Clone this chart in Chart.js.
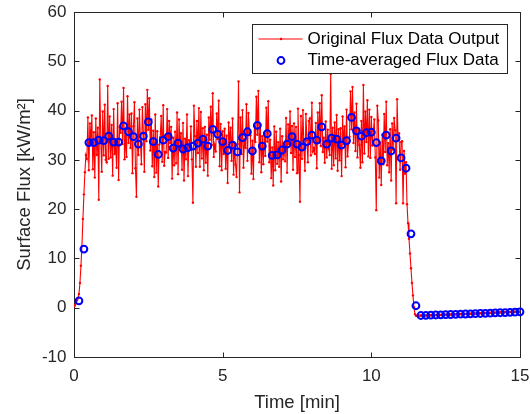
<!DOCTYPE html>
<html>
<head>
<meta charset="utf-8">
<title>Surface Flux</title>
<script src="https://cdn.jsdelivr.net/npm/chart.js@4.4.1/dist/chart.umd.min.js"></script>
<style>
  html, body { margin: 0; padding: 0; background: #fff; }
  #wrap { width: 530px; height: 414px; }
</style>
</head>
<body>
<div id="wrap"><canvas id="fluxChart" width="530" height="414"></canvas></div>
<script>
// raw sensor output, one sample every 2 s
const RAW_STEP_MIN = 1 / 30;
const rawFlux = [
  0.3, 0.6, 1.0, 1.5, 1.9, 2.8, 5.0, 8.5, 12.5, 18.0, 23.0, 27.5, 31.0,
  30.2, 38.6, 27.9, 37.4, 33.4,   39.0, 28.1, 35.6, 26.4, 38.4,
  31.0, 36.5, 21.9, 46.3, 34.3,   27.6, 39.8, 30.9, 41.2, 30.0,
  29.5, 45.0, 30.2, 38.8, 30.5,   37.1, 26.8, 40.3, 31.2, 32.6,
  28.4, 41.5, 25.9, 36.7, 35.5,   41.8, 33.2, 44.6, 30.1, 34.8,
  30.6, 42.9, 33.4, 39.2, 32.4,   39.4, 27.3, 36.8, 41.7, 28.3,
  22.5, 38.4, 31.0, 40.2, 33.9,   29.1, 40.7, 35.3, 27.6, 41.3,
  33.8, 44.2, 36.1, 42.5, 31.9,   38.2, 28.7, 35.9, 26.5, 39.2,
  27.4, 35.8, 24.6, 33.1, 34.6,   38.9, 29.6, 41.1, 28.8, 31.6,
  31.5, 40.3, 30.4, 37.9, 33.4,   36.7, 26.2, 34.5, 28.9, 35.7,
  29.3, 39.6, 27.1, 38.2, 32.8,   35.4, 28.0, 37.5, 25.8, 34.3,
  30.1, 39.2, 26.7, 34.0, 32.5,   36.8, 30.1, 21.3, 41.0, 34.8,
  28.6, 37.9, 31.4, 40.5, 28.6,   39.7, 30.3, 36.4, 27.9, 36.7,
  29.4, 35.1, 26.8, 38.6, 34.1,   40.8, 33.0, 43.5, 30.6, 33.1,
  31.7, 39.4, 34.2, 42.0, 28.7,   37.3, 27.9, 35.8, 31.2, 36.3,
  28.2, 34.9, 25.3, 37.6, 33.5,   36.5, 29.8, 38.4, 27.0, 33.3,
  29.0, 26.5, 33.2, 45.9, 23.4,   38.6, 31.2, 40.1, 28.4, 34.2,
  32.4, 41.3, 29.8, 39.5, 35.5,   35.0, 27.2, 33.9, 26.1, 36.8,
  33.6, 42.8, 35.1, 44.0, 29.5,   37.2, 27.5, 34.8, 29.1, 35.4,
  30.8, 40.6, 33.7, 41.9, 29.5,   34.1, 26.3, 32.5, 24.8, 36.8,
  27.9, 35.7, 29.2, 33.6, 28.6,   36.3, 25.6, 34.8, 30.1, 33.2,
  29.7, 38.5, 27.4, 37.2, 33.2,   39.8, 31.4, 36.9, 28.0, 37.4,
  30.6, 36.7, 27.3, 40.4, 31.0,   21.5, 38.9, 30.2, 40.1, 32.3,
  27.8, 39.3, 34.0, 29.5, 37.9,   38.4, 30.9, 41.6, 31.7, 32.4,
  31.2, 37.5, 28.3, 39.6, 33.4,   41.5, 32.8, 43.1, 31.6, 34.5,
  29.4, 37.8, 30.5, 36.1, 32.2,   31.0, 47.4, 28.2, 36.5, 28.9,
  37.6, 30.3, 39.1, 27.8, 36.2,   29.9, 36.4, 26.7, 38.8, 33.2,
  36.8, 28.5, 40.2, 30.7, 33.3,   34.7, 43.9, 36.2, 44.8, 33.4,
  39.6, 31.8, 41.4, 30.5, 36.2,   33.0, 28.4, 37.9, 29.5, 45.2,
  31.3, 39.8, 33.6, 42.1, 30.7,   40.2, 30.4, 38.7, 32.9, 35.8,
  38.2, 30.5, 19.8, 41.0, 38.0,   26.4, 33.5, 24.9, 35.1, 29.1,
  39.3, 31.6, 41.8, 28.9, 33.4,   27.5, 36.2, 25.8, 37.4, 32.1,
  38.5, 36.0, 21.2, 42.3, 34.0,   35.4, 28.0, 33.6, 33.8, 21.2,
  31.8, 27.2, 29.5,
  21.0, 17.2, 14.0, 11.0, 8.0, 5.0, 2.5, 0.1, -1.3,
  -1.62, -1.60, -1.63, -1.59, -1.61, -1.58, -1.60, -1.57, -1.59, -1.56,
  -1.57, -1.55, -1.56, -1.53, -1.55, -1.52, -1.54, -1.51, -1.52, -1.50,
  -1.51, -1.48, -1.50, -1.47, -1.48, -1.45, -1.47, -1.44, -1.45, -1.42,
  -1.43, -1.41, -1.42, -1.39, -1.40, -1.37, -1.38, -1.36, -1.37, -1.34,
  -1.35, -1.32, -1.33, -1.31, -1.32, -1.29, -1.30, -1.27, -1.28, -1.26,
  -1.26, -1.24, -1.25, -1.22, -1.23, -1.20, -1.21, -1.19, -1.19, -1.17,
  -1.17, -1.15, -1.16, -1.13, -1.14, -1.11, -1.12, -1.10, -1.10, -1.08,
  -1.08, -1.06, -1.07, -1.04, -1.05, -1.02, -1.03, -1.01, -1.01, -0.99,
  -0.99, -0.97, -0.98, -0.95, -0.96, -0.93, -0.94, -0.92, -0.92, -0.90,
  -0.90, -0.88, -0.89, -0.86, -0.87, -0.85, -0.85, -0.83, -0.84, -0.82,
  -0.82, -0.81, -0.81, -0.80, -0.80, -0.79
];

// 10 s averages, first one at t = 1/6 min
const AVG_STEP_MIN = 1 / 6;
const avgFlux = [
  1.4, 11.9, 33.5, 33.5, 34.0, 33.9, 34.8, 33.6, 33.6, 36.9,
  35.7, 34.7, 33.2, 34.8, 37.7, 33.7, 31.1, 34.0, 34.7, 32.4,
  33.4, 32.2, 32.5, 32.8, 33.4, 34.2, 32.8, 36.2, 35.2, 33.7,
  31.9, 33.0, 31.6, 34.5, 35.7, 31.8, 37.0, 32.8, 35.3, 30.9,
  31.0, 32.0, 33.2, 34.7, 33.2, 32.6, 33.7, 35.0, 34.0, 36.7,
  33.2, 34.4, 34.2, 33.0, 33.9, 38.6, 35.9, 34.8, 35.5, 35.6,
  33.5, 29.8, 35.0, 31.8, 34.4, 30.4, 28.3, 15.0, 0.4,
  -1.58, -1.55, -1.52, -1.48, -1.45, -1.41, -1.38, -1.35, -1.32, -1.28,
  -1.24, -1.21, -1.17, -1.14, -1.10, -1.06, -1.02, -0.98, -0.94, -0.90, -0.84
];

const xTicks = [0, 5, 10, 15];
const yTicks = [-10, 0, 10, 20, 30, 40, 50, 60];

const FONT = "'Liberation Sans', Arial, Helvetica, sans-serif";
const AXIS_COLOR = '#262626';
const TICK_LEN = 5;

const rawPoints = rawFlux.map((v, i) => ({ x: i * RAW_STEP_MIN, y: v }));
const avgPoints = avgFlux.map((v, i) => ({ x: (i + 1) * AVG_STEP_MIN, y: v }));

// box + inward ticks on all four sides, like matlab
const matlabAxes = {
  id: 'matlabAxes',
  beforeDatasetsDraw(chart) {
    const { ctx, chartArea: a, scales } = chart;
    ctx.save();
    ctx.strokeStyle = AXIS_COLOR;
    ctx.lineWidth = 1;
    const l = Math.round(a.left) + 0.5, r = Math.round(a.right) + 0.5;
    const t = Math.round(a.top) + 0.5, b = Math.round(a.bottom) + 0.5;
    ctx.strokeRect(l, t, r - l, b - t);
    ctx.beginPath();
    scales.x.ticks.forEach(tk => {
      const px = Math.round(scales.x.getPixelForValue(tk.value)) + 0.5;
      ctx.moveTo(px, b); ctx.lineTo(px, b - TICK_LEN);
      ctx.moveTo(px, t); ctx.lineTo(px, t + TICK_LEN);
    });
    scales.y.ticks.forEach(tk => {
      const py = Math.round(scales.y.getPixelForValue(tk.value)) + 0.5;
      ctx.moveTo(l, py); ctx.lineTo(l + TICK_LEN, py);
      ctx.moveTo(r, py); ctx.lineTo(r - TICK_LEN, py);
    });
    ctx.stroke();
    ctx.restore();
  }
};

// legend box inside the axes, top right
const insideLegend = {
  id: 'insideLegend',
  afterDatasetsDraw(chart) {
    const { ctx, chartArea: a } = chart;
    const w = 255, h = 49;
    const x0 = Math.round(a.right - 13 - w) + 0.5;
    const y0 = Math.round(a.top + 12) + 0.5;
    ctx.save();
    ctx.fillStyle = '#fff';
    ctx.fillRect(x0, y0, w, h);
    ctx.strokeStyle = AXIS_COLOR;
    ctx.lineWidth = 1;
    ctx.strokeRect(x0, y0, w, h);

    ctx.font = '17px ' + FONT;
    ctx.textBaseline = 'middle';
    const ds = chart.data.datasets;
    const rows = [y0 + 14.5, y0 + 36];
    ds.forEach((d, i) => {
      const cy = rows[i];
      const cx = x0 + 28.5;
      if (d.showLine !== false) {
        ctx.strokeStyle = d.borderColor;
        ctx.lineWidth = d.borderWidth;
        ctx.beginPath();
        ctx.moveTo(x0 + 6, cy);
        ctx.lineTo(x0 + 50, cy);
        ctx.stroke();
        ctx.fillStyle = d.pointBackgroundColor;
        ctx.beginPath();
        ctx.arc(cx, cy, d.pointRadius, 0, Math.PI * 2);
        ctx.fill();
      } else {
        ctx.strokeStyle = d.pointBorderColor;
        ctx.lineWidth = d.pointBorderWidth;
        ctx.beginPath();
        ctx.arc(cx, cy, d.pointRadius, 0, Math.PI * 2);
        ctx.stroke();
      }
      ctx.fillStyle = '#000';
      ctx.fillText(d.label, x0 + 55, cy);
    });
    ctx.restore();
  }
};

const ctx = document.getElementById('fluxChart').getContext('2d');

new Chart(ctx, {
  type: 'scatter',
  data: {
    datasets: [
      {
        label: 'Original Flux Data Output',
        data: rawPoints,
        showLine: true,
        borderColor: '#ff0000',
        borderWidth: 1.1,
        pointRadius: 1.2,
        pointBackgroundColor: '#ff0000',
        pointBorderWidth: 0,
        pointHoverRadius: 1.2,
        tension: 0,
        order: 2
      },
      {
        label: 'Time-averaged Flux Data',
        data: avgPoints,
        showLine: false,
        pointRadius: 3.4,
        pointBorderWidth: 2,
        pointBorderColor: '#0000ff',
        pointBackgroundColor: 'rgba(0,0,0,0)',
        pointHoverRadius: 3.4,
        clip: false,
        order: 1
      }
    ]
  },
  options: {
    responsive: false,
    animation: false,
    devicePixelRatio: 1,
    layout: { padding: { top: 12, right: 10, left: 0, bottom: 0 } },
    plugins: {
      legend: { display: false },
      tooltip: { enabled: false }
    },
    events: [],
    scales: {
      x: {
        type: 'linear',
        min: 0,
        max: 15,
        afterBuildTicks: s => { s.ticks = xTicks.map(v => ({ value: v })); },
        afterFit: s => { s.height = 57; s.paddingLeft = 0; s.paddingRight = 0; },
        grid: { display: false, drawTicks: false },
        border: { display: false },
        ticks: { color: AXIS_COLOR, font: { family: FONT, size: 17 }, padding: 9.5, maxRotation: 0 },
        title: {
          display: true,
          text: 'Time [min]',
          color: AXIS_COLOR,
          font: { family: FONT, size: 18.5 },
          padding: { top: 0, bottom: 0 }
        }
      },
      y: {
        type: 'linear',
        min: -10,
        max: 60,
        afterBuildTicks: s => { s.ticks = yTicks.map(v => ({ value: v })); },
        afterFit: s => { s.width = 74; s.paddingTop = 0; s.paddingBottom = 0; },
        grid: { display: false, drawTicks: false },
        border: { display: false },
        ticks: { color: AXIS_COLOR, font: { family: FONT, size: 17 }, padding: 7.5 },
        title: {
          display: true,
          text: 'Surface Flux [kW/m²]',
          color: AXIS_COLOR,
          font: { family: FONT, size: 18.5 },
          padding: { top: 14, bottom: 0 }
        }
      }
    }
  },
  plugins: [matlabAxes, insideLegend]
});
</script>
</body>
</html>
